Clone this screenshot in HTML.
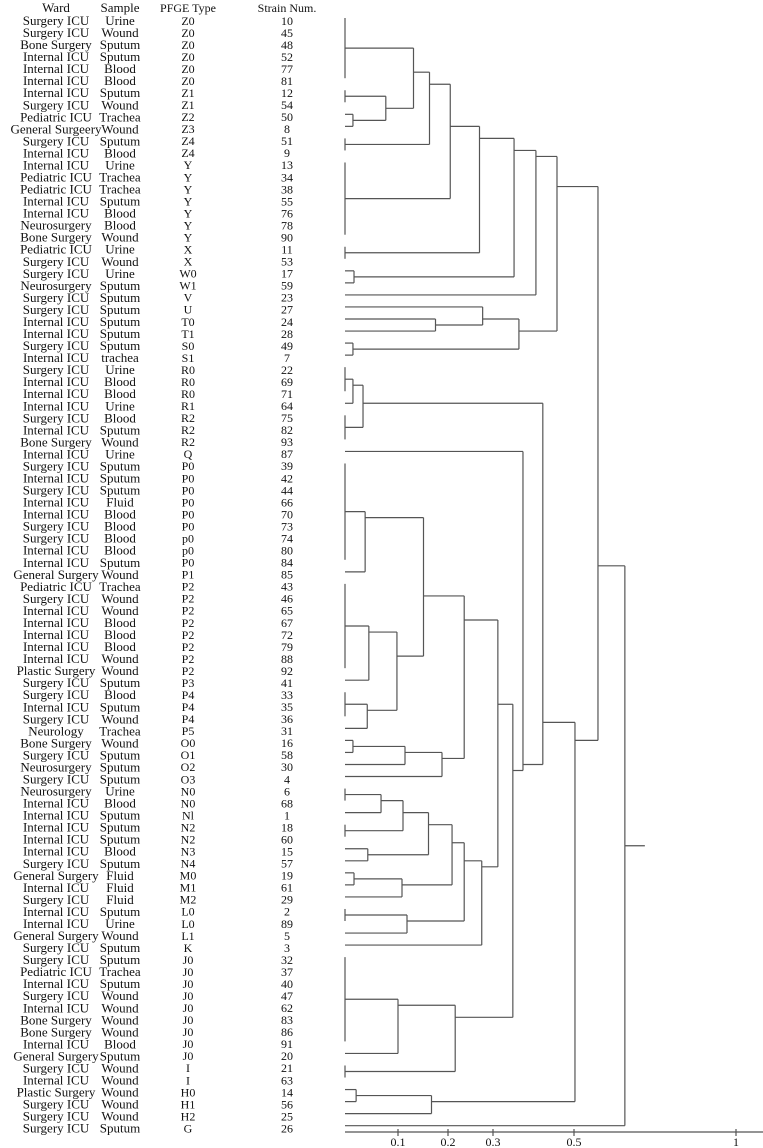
<!DOCTYPE html>
<html><head><meta charset="utf-8">
<style>
html,body{margin:0;padding:0;background:#fff;}
#wrap{position:relative;width:763px;height:1148px;overflow:hidden;}
svg{position:absolute;left:0;top:0;}
text{font-family:"Liberation Serif",serif;fill:#111;}
</style></head>
<body>
<div id="wrap">
<svg id="chart" width="763" height="1148"></svg>
</div>
<script>
const wards=["Surgery ICU","Surgery ICU","Bone Surgery","Internal ICU","Internal ICU","Internal ICU","Internal ICU","Surgery ICU","Pediatric ICU","General Surgeery","Surgery ICU","Internal ICU","Internal ICU","Pediatric ICU","Pediatric ICU","Internal ICU","Internal ICU","Neurosurgery","Bone Surgery","Pediatric ICU","Surgery ICU","Surgery ICU","Neurosurgery","Surgery ICU","Surgery ICU","Internal ICU","Internal ICU","Surgery ICU","Internal ICU","Surgery ICU","Internal ICU","Internal ICU","Internal ICU","Surgery ICU","Internal ICU","Bone Surgery","Internal ICU","Surgery ICU","Internal ICU","Surgery ICU","Internal ICU","Internal ICU","Surgery ICU","Surgery ICU","Internal ICU","Internal ICU","General Surgery","Pediatric ICU","Surgery ICU","Internal ICU","Internal ICU","Internal ICU","Internal ICU","Internal ICU","Plastic Surgery","Surgery ICU","Surgery ICU","Internal ICU","Surgery ICU","Neurology","Bone Surgery","Surgery ICU","Neurosurgery","Surgery ICU","Neurosurgery","Internal ICU","Internal ICU","Internal ICU","Internal ICU","Internal ICU","Surgery ICU","General Surgery","Internal ICU","Surgery ICU","Internal ICU","Internal ICU","General Surgery","Surgery ICU","Surgery ICU","Pediatric ICU","Internal ICU","Surgery ICU","Internal ICU","Bone Surgery","Bone Surgery","Internal ICU","General Surgery","Surgery ICU","Internal ICU","Plastic Surgery","Surgery ICU","Surgery ICU","Surgery ICU"];
const samples=["Urine","Wound","Sputum","Sputum","Blood","Blood","Sputum","Wound","Trachea","Wound","Sputum","Blood","Urine","Trachea","Trachea","Sputum","Blood","Blood","Wound","Urine","Wound","Urine","Sputum","Sputum","Sputum","Sputum","Sputum","Sputum","trachea","Urine","Blood","Blood","Urine","Blood","Sputum","Wound","Urine","Sputum","Sputum","Sputum","Fluid","Blood","Blood","Blood","Blood","Sputum","Wound","Trachea","Wound","Wound","Blood","Blood","Blood","Wound","Wound","Sputum","Blood","Sputum","Wound","Trachea","Wound","Sputum","Sputum","Sputum","Urine","Blood","Sputum","Sputum","Sputum","Blood","Sputum","Fluid","Fluid","Fluid","Sputum","Urine","Wound","Sputum","Sputum","Trachea","Sputum","Wound","Wound","Wound","Wound","Blood","Sputum","Wound","Wound","Wound","Wound","Wound","Sputum"];
const types=["Z0","Z0","Z0","Z0","Z0","Z0","Z1","Z1","Z2","Z3","Z4","Z4","Y","Y","Y","Y","Y","Y","Y","X","X","W0","W1","V","U","T0","T1","S0","S1","R0","R0","R0","R1","R2","R2","R2","Q","P0","P0","P0","P0","P0","P0","p0","p0","P0","P1","P2","P2","P2","P2","P2","P2","P2","P2","P3","P4","P4","P4","P5","O0","O1","O2","O3","N0","N0","Nl","N2","N2","N3","N4","M0","M1","M2","L0","L0","L1","K","J0","J0","J0","J0","J0","J0","J0","J0","J0","I","I","H0","H1","H2","G"];
const strains=["10","45","48","52","77","81","12","54","50","8","51","9","13","34","38","55","76","78","90","11","53","17","59","23","27","24","28","49","7","22","69","71","64","75","82","93","87","39","42","44","66","70","73","74","80","84","85","43","46","65","67","72","79","88","92","41","33","35","36","31","16","58","30","4","6","68","1","18","60","15","57","19","61","29","2","89","5","3","32","37","40","47","62","83","86","91","20","21","63","14","56","25","26"];
// flat (zero-distance) groups: [firstLeaf, lastLeaf]
const flatGroups=[[0,5],[6,7],[10,11],[12,18],[19,20],[29,31],[33,35],[37,45],[47,54],[56,58],[64,65],[67,68],[74,75],[78,85],[87,88]];
// merges: [start, split, end] -> children [start..split-1],[split..end]
const mergeRanges=[[8,9,9],[6,8,9],[0,6,9],[0,10,11],[0,12,18],[0,19,20],[21,22,22],[0,21,22],[0,23,23],[25,26,26],[24,25,26],[27,28,28],[24,27,28],[0,24,28],[29,32,32],[29,33,35],[37,46,46],[47,55,55],[56,59,59],[47,56,59],[37,47,59],[60,61,61],[60,62,62],[60,63,63],[37,60,63],[64,66,66],[64,67,68],[69,70,70],[64,69,70],[71,72,72],[71,73,73],[64,71,73],[74,76,76],[64,74,76],[64,77,77],[37,64,77],[78,86,86],[78,87,88],[37,78,88],[36,37,88],[29,36,88],[89,90,90],[89,91,91],[29,89,91],[0,29,91],[0,92,92]];
const mergeHeights=[0.015,0.077,0.131,0.163,0.205,0.270,0.017,0.352,0.406,0.175,0.277,0.015,0.364,0.458,0.015,0.034,0.038,0.045,0.042,0.098,0.151,0.015,0.114,0.188,0.236,0.068,0.110,0.043,0.161,0.017,0.108,0.209,0.118,0.236,0.275,0.312,0.1,0.216,0.349,0.374,0.423,0.021,0.167,0.503,0.574,0.657];
const tickValues=[0,0.1,0.2,0.3,0.5,1];
const tickLabels=["","0.1","0.2","0.3","0.5","1"];
const tickPixels=[345,398,448,493,574,736];

const svg=document.getElementById('chart');
const NS='http://www.w3.org/2000/svg';
function xs(v){for(let i=1;i<tickValues.length;i++){if(v<=tickValues[i]){const t=(v-tickValues[i-1])/(tickValues[i]-tickValues[i-1]);return tickPixels[i-1]+t*(tickPixels[i]-tickPixels[i-1]);}}return tickPixels[tickPixels.length-1];}
function leafY(i){return 18+i*12.04;}
function textY(i){return 22+i*12.04;}
function centroid(a,b){let s=0;for(let i=a;i<=b;i++)s+=leafY(i);return s/(b-a+1);}
function heightOf(a,b){
  if(a===b) return 0;
  for(let k=0;k<mergeRanges.length;k++){if(mergeRanges[k][0]===a&&mergeRanges[k][2]===b)return mergeHeights[k];}
  return 0;
}
function line(x1,y1,x2,y2,name){
  const l=document.createElementNS(NS,'line');
  l.setAttribute('x1',x1);l.setAttribute('y1',y1);l.setAttribute('x2',x2);l.setAttribute('y2',y2);
  l.setAttribute('stroke','#555');l.setAttribute('stroke-width','1.2');
  
  
  svg.appendChild(l);
}
function txt(x,y,s,name,size){
  const t=document.createElementNS(NS,'text');
  t.setAttribute('x',x);t.setAttribute('y',y);t.setAttribute('text-anchor','middle');
  t.setAttribute('dominant-baseline','middle');t.setAttribute('font-size',size);
  t.textContent=s;
  
  
  svg.appendChild(t);
}
// headers
txt(56,9,'Ward','ward-header',13);
txt(120,9,'Sample','sample-header',13);
txt(188,9,'PFGE Type','pfge-type-header',12);
txt(287,9,'Strain Num.','strain-num-header',12);
for(let i=0;i<wards.length;i++){
  txt(56,textY(i),wards[i],'ward-label',13);
  txt(120,textY(i),samples[i],'sample-label',13);
  txt(188,textY(i),types[i],'pfge-type-label',12);
  txt(287,textY(i),strains[i],'strain-num-label',12);
}
// flat groups
flatGroups.forEach(g=>{line(xs(0),leafY(g[0]),xs(0),leafY(g[1]),'zero-distance-cluster');});
// merges
let rootTop=0,rootBot=0;
mergeRanges.forEach((m,k)=>{
  const h=xs(mergeHeights[k]);
  const y1=centroid(m[0],m[1]-1), y2=centroid(m[1],m[2]);
  const x1=xs(heightOf(m[0],m[1]-1)), x2=xs(heightOf(m[1],m[2]));
  line(h,y1,h,y2,'cluster-node');
  line(x1,y1,h,y1,'branch');
  line(x2,y2,h,y2,'branch');
  rootTop=y1;rootBot=y2;
});
// root stub at midpoint of root vertical
const rootK=mergeRanges.length-1;
const rootY=(rootTop+rootBot)/2;
line(xs(mergeHeights[rootK]),rootY,xs(mergeHeights[rootK])+20,rootY,'root-branch');
// axis
line(345,1132,763,1132,'x-axis');
tickValues.forEach((v,i)=>{ if(i>0){line(xs(v),1129,xs(v),1136,'x-tick');txt(xs(v),1143,tickLabels[i],'x-tick-label',12);} });
</script>
</body></html>
